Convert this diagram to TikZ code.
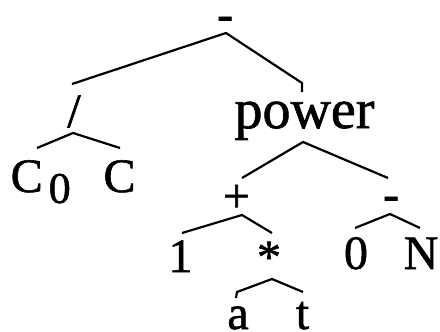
\documentclass[tikz,border=0pt]{standalone}
\usepackage{fontspec}
\setmainfont[FakeBold=1.2]{Liberation Serif}
\begin{document}
\begin{tikzpicture}[x=1pt,y=-1pt,
  lbl/.style={inner sep=0pt, anchor=base, font=\fontsize{48}{48}\selectfont},
  big/.style={lbl, font=\fontsize{56}{56}\selectfont},
  branch/.style={line width=2.2pt, line join=miter, line cap=butt}]
\useasboundingbox (0,0) rectangle (440,332);
% labels
\node[lbl] (minus1) at (225,30) {-};
\node[lbl] (div) at (74,127) {/};
\node[lbl, anchor=base west] (c0) at (10.5,192) {C\kern6pt\raisebox{-11pt}{\fontsize{44}{44}\selectfont 0}};
\node[lbl] (c) at (119.5,192) {C};
\node[big] (power) at (304.5,128) {power};
\node[lbl] (plus) at (236.5,212) {+};
\node[lbl] (minus2) at (391,210) {-};
\node[lbl] (one) at (180.5,272) {1};
\node[lbl] (star) at (269,273) {*};
\node[lbl] (zero) at (356,269) {0};
\node[lbl] (n) at (421,269) {N};
\node[lbl] (a) at (238,329) {a};
\node[lbl] (t) at (302.5,329) {t};
% branch points
\coordinate (m1apex) at (226,33);
\coordinate (m1l) at (72,84);
\coordinate (m1r) at (302,83);
\coordinate (m1rb) at (302,92);
\coordinate (dapex) at (73,133);
\coordinate (dl) at (37,148);
\coordinate (dr) at (120,148);
\coordinate (papex) at (303,142);
\coordinate (pl) at (242,178);
\coordinate (pr) at (388,178);
\coordinate (plapex) at (242,215);
\coordinate (pll) at (182,233);
\coordinate (plr) at (272,233);
\coordinate (m2apex) at (390,214);
\coordinate (m2l) at (355,228);
\coordinate (m2r) at (420,228);
\coordinate (sapex) at (272,279);
\coordinate (sl) at (237,292);
\coordinate (slb) at (236,298);
\coordinate (sr) at (303,292);
% connectors
\draw[branch] (m1l) -- (m1apex) -- (m1r) -- (m1rb);
\draw[branch] (dl) -- (dapex) -- (dr);
\draw[branch] (pl) -- (papex) -- (pr);
\draw[branch] (pll) -- (plapex) -- (plr);
\draw[branch] (m2l) -- (m2apex) -- (m2r);
\draw[branch] (slb) -- (sl) -- (sapex) -- (sr);
\end{tikzpicture}
\end{document}
